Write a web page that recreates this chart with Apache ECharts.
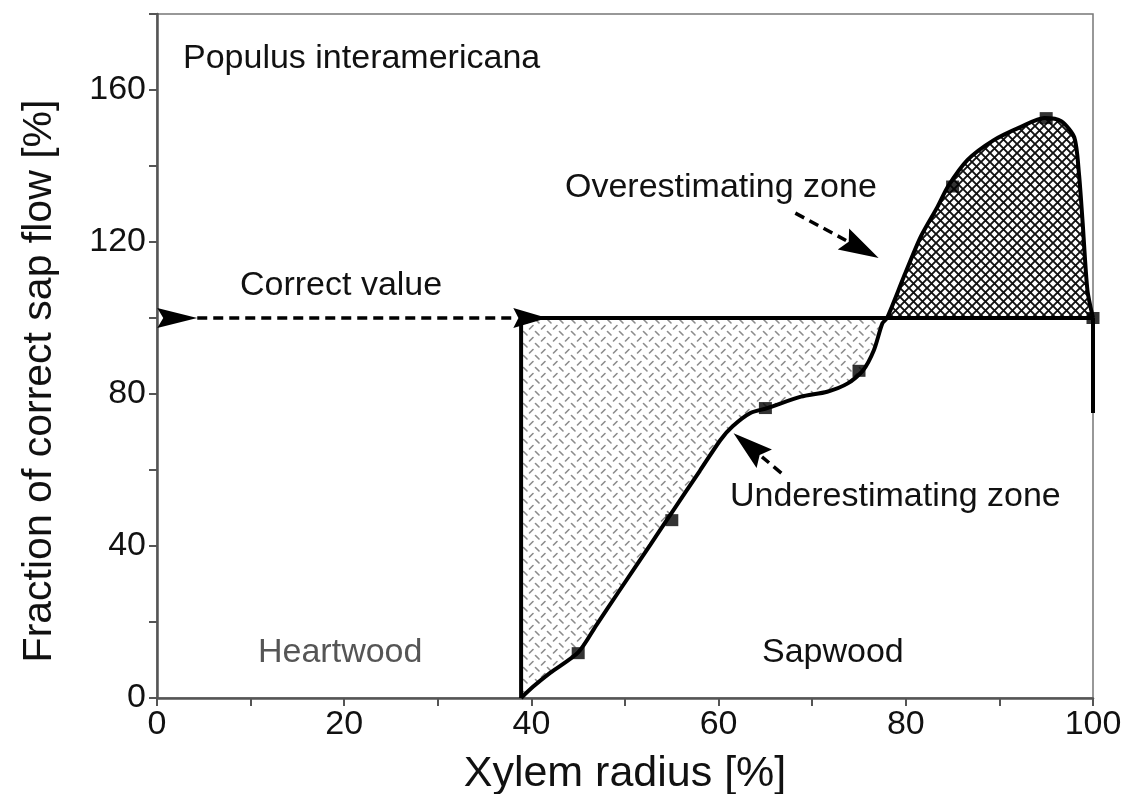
<!DOCTYPE html>
<html><head><meta charset="utf-8">
<script src="https://cdn.jsdelivr.net/npm/echarts@6/dist/echarts.min.js"></script>
<style>html,body{margin:0;padding:0;background:#fff}#c{width:1126px;height:794px}</style>
</head><body><div id="c"></div>
<script>
// ---- data ----
const curveX = [38.9, 40.2, 42.0, 45.0, 47.0, 49.2, 52.7, 55.0, 58.0, 60.2, 61.5, 63.4, 65.2, 68.8, 71.6, 73.8, 75.4, 76.6, 77.5, 78.0, 79.8, 81.6, 83.4, 84.5, 86.6, 89.4, 92.3, 94.8, 96.6, 98.0, 98.5, 98.9, 99.4, 100];
const curveY = [0, 3.0, 6.6, 12.0, 19.4, 27.5, 40.3, 48.8, 59.8, 67.9, 71.5, 75.0, 76.3, 79.3, 80.6, 82.8, 86.1, 91.6, 98.6, 100, 110.9, 121.4, 129.3, 134.6, 141.6, 146.8, 150.3, 152.6, 151.8, 147.5, 138.0, 124.9, 107.4, 100];
const markerX = [45, 55, 65, 75, 85, 95, 100];
const markerY = [11.8, 46.8, 76.3, 86.1, 134.6, 152.6, 100];
const sapwoodStart = 38.9;     // heartwood / sapwood boundary
const correctValue = 100;      // correct sap flow
const crossX = 78.0;           // curve crosses correct value
const endDrop = [100, 75];     // final drop at the bark
const xTickLabels = [0, 20, 40, 60, 80, 100];
const yTickLabels = [0, 40, 80, 120, 160];
// annotation arrows: [x0, y0, x1(tip), y1(tip), headLen(px), headWidth(px), dashed]
const arrowRows = [
  [0, 100, 4.3, 100, 40, 20, 0],
  [4.3, 100, 41.7, 100, 34, 20, 1],
  [68.2, 127.6, 77.1, 115.8, 40, 24, 1],
  [66.7, 59.2, 61.6, 69.7, 40, 24, 1]
];
const texts = [
  {t: 'Populus interamericana', x: 183, y: 59, c: '#111', s: 34},
  {t: 'Correct value', x: 240, y: 286, c: '#111', s: 34},
  {t: 'Overestimating zone', x: 565, y: 188, c: '#111', s: 34},
  {t: 'Underestimating zone', x: 730, y: 497, c: '#111', s: 34},
  {t: 'Heartwood', x: 258, y: 653, c: '#555', s: 34},
  {t: 'Sapwood', x: 762, y: 653, c: '#111', s: 34}
];
const yTitle = {t: 'Fraction of correct sap flow [%]', x: 40, y: 381, s: 41};

const FONT = 'Liberation Sans, Arial, Helvetica, sans-serif';
const curvePts = curveX.map((x, i) => [x, curveY[i]]);
const underPts = curvePts.filter(p => p[0] <= crossX);
const overPts = curvePts.filter(p => p[0] >= crossX);
const markerPts = markerX.map((x, i) => [x, markerY[i]]);

function makeTile(size, draw) {
  const c = document.createElement('canvas');
  c.width = c.height = size;
  const g = c.getContext('2d');
  g.fillStyle = '#fff'; g.fillRect(0, 0, size, size);
  draw(g, size);
  return c;
}
const underTile = makeTile(12, (g) => {
  g.strokeStyle = '#8c8c8c'; g.lineWidth = 1.6; g.lineCap = 'round';
  g.beginPath();
  g.moveTo(1.5, 5); g.lineTo(5, 1.5);
  g.moveTo(7.5, 7.5); g.lineTo(11, 11);
  g.stroke();
});
const overTile = makeTile(9, (g, s) => {
  g.strokeStyle = '#111'; g.lineWidth = 1.9;
  g.beginPath();
  g.moveTo(-1, -1); g.lineTo(s + 1, s + 1);
  g.moveTo(s + 1, -1); g.lineTo(-1, s + 1);
  g.stroke();
});

const chart = echarts.init(document.getElementById('c'), null, {renderer: 'canvas'});
const lineW = 4;
chart.setOption({
  animation: false,
  backgroundColor: '#fff',
  grid: {left: 157, right: 33, top: 14, bottom: 96, containLabel: false, outerBoundsMode: 'none',
         show: true, borderColor: '#777', borderWidth: 1.5, backgroundColor: 'transparent'},
  xAxis: {
    type: 'value', min: 0, max: 100, interval: 10,
    name: 'Xylem radius [%]', nameLocation: 'middle', nameGap: 55,
    nameTextStyle: {fontSize: 43, color: '#111', fontFamily: FONT},
    axisLine: {lineStyle: {color: '#555', width: 2.5}},
    axisTick: {show: true, length: 8, lineStyle: {color: '#555', width: 2}},
    axisLabel: {formatter: v => xTickLabels.includes(Math.round(v)) ? String(Math.round(v)) : '', fontSize: 34, color: '#111', margin: 10, fontFamily: FONT},
    splitLine: {show: false}
  },
  yAxis: {
    type: 'value', min: 0, max: 180, interval: 20,
    axisLine: {lineStyle: {color: '#555', width: 2.5}},
    axisTick: {show: true, length: 8, lineStyle: {color: '#555', width: 2}},
    axisLabel: {formatter: v => yTickLabels.includes(Math.round(v)) ? String(Math.round(v)) : '', fontSize: 34, color: '#111', margin: 11, fontFamily: FONT},
    splitLine: {show: false}
  },
  series: [
    {type: 'line', data: underPts, smooth: 0.25, symbol: 'none', silent: true, z: 2,
     lineStyle: {width: 0, opacity: 0},
     areaStyle: {origin: correctValue, opacity: 1, color: {image: underTile, repeat: 'repeat'}}},
    {type: 'line', data: overPts, smooth: 0.25, symbol: 'none', silent: true, z: 2,
     lineStyle: {width: 0, opacity: 0},
     areaStyle: {origin: correctValue, opacity: 1, color: {image: overTile, repeat: 'repeat'}}},
    {type: 'line', data: curvePts, smooth: 0.25, symbol: 'none', z: 5,
     lineStyle: {color: '#000', width: lineW}},
    {type: 'line', data: [[sapwoodStart, 0], [sapwoodStart, correctValue]], symbol: 'none', z: 5,
     lineStyle: {color: '#000', width: lineW}},
    {type: 'line', data: [[sapwoodStart, correctValue], [100, correctValue]], symbol: 'none', z: 5,
     lineStyle: {color: '#000', width: lineW}},
    {type: 'line', data: [[endDrop[0], correctValue], endDrop], symbol: 'none', z: 5,
     lineStyle: {color: '#000', width: lineW}},
    {type: 'scatter', data: markerPts, symbol: 'rect', symbolSize: [13, 12], z: 6,
     itemStyle: {color: '#000'}},
    {type: 'custom', data: arrowRows, z: 7, silent: true,
     encode: {x: [0, 2], y: [1, 3]},
     renderItem: (params, api) => {
       const p0 = api.coord([api.value(0), api.value(1)]);
       const p1 = api.coord([api.value(2), api.value(3)]);
       const L = api.value(4), W = api.value(5), dashed = api.value(6);
       const dx = p1[0] - p0[0], dy = p1[1] - p0[1];
       const len = Math.hypot(dx, dy);
       const ux = dx / len, uy = dy / len, nx = -uy, ny = ux;
       const bx = p1[0] - ux * L, by = p1[1] - uy * L;
       const children = [];
       if (dashed && len > L + 2) {
         children.push({type: 'line', shape: {x1: p0[0], y1: p0[1], x2: bx + ux * 3, y2: by + uy * 3},
           style: {stroke: '#000', lineWidth: 3.5, lineDash: [10, 6]}});
       }
       children.push({type: 'polygon', shape: {points: [
         [p1[0], p1[1]],
         [bx + nx * W / 2, by + ny * W / 2],
         [bx + ux * L * 0.15, by + uy * L * 0.15],
         [bx - nx * W / 2, by - ny * W / 2]
       ]}, style: {fill: '#000'}});
       return {type: 'group', children};
     }}
  ],
  graphic: texts.map(o => ({type: 'text', x: o.x, y: o.y, z: 10,
    style: {text: o.t, fill: o.c, font: o.s + 'px ' + FONT, verticalAlign: 'middle', align: 'left'}}))
    .concat([{type: 'text', x: yTitle.x, y: yTitle.y, rotation: Math.PI / 2, z: 10,
      style: {text: yTitle.t, fill: '#111', font: yTitle.s + 'px ' + FONT, verticalAlign: 'middle', align: 'center'}}])
});
</script>
</body></html>
